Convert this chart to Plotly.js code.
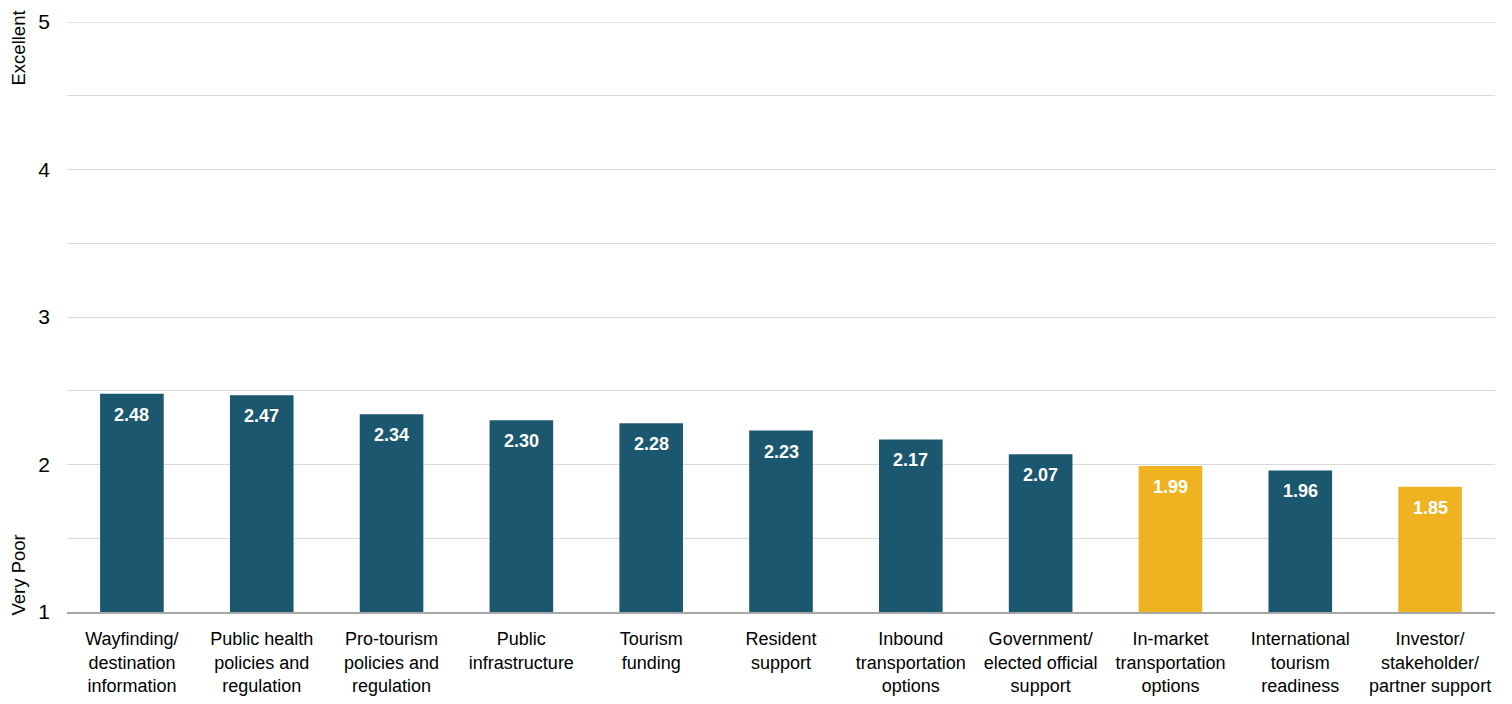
<!DOCTYPE html>
<html><head><meta charset="utf-8">
<script src="https://cdn.plot.ly/plotly-3.0.1.min.js"></script>
<style>html,body{margin:0;padding:0;background:#fff}#chart{width:1512px;height:704px}</style>
</head><body><div id="chart"></div>
<script>
const categories = [
  "Wayfinding/<br>destination<br>information",
  "Public health<br>policies and<br>regulation",
  "Pro-tourism<br>policies and<br>regulation",
  "Public<br>infrastructure",
  "Tourism<br>funding",
  "Resident<br>support",
  "Inbound<br>transportation<br>options",
  "Government/<br>elected official<br>support",
  "In-market<br>transportation<br>options",
  "International<br>tourism<br>readiness",
  "Investor/<br>stakeholder/<br>partner support"
];
const values = [2.48, 2.47, 2.34, 2.30, 2.28, 2.23, 2.17, 2.07, 1.99, 1.96, 1.85];
const highlighted = [false, false, false, false, false, false, false, false, true, false, true];
const yTickVals = [1, 2, 3, 4, 5];
const yTickText = ["1", "2", "3", "4", "5"];
const yMin = 1, yMax = 5;

const teal = "#1c5770", gold = "#efb321";
const colors = highlighted.map(h => h ? gold : teal);

const trace = {
  type: "bar",
  x: categories,
  y: values.map(v => v - yMin),
  base: yMin,
  marker: {color: colors},
  width: 0.49,
  hoverinfo: "skip"
};

const font = "Liberation Sans, Arial";
const annotations = categories.map((c, i) => ({
  x: c, y: values[i], xref: "x", yref: "y",
  text: "<b>" + values[i].toFixed(2) + "</b>",
  showarrow: false, yanchor: "middle", yshift: -21,
  font: {family: font, size: 18, color: "#ffffff"}
}));
annotations.push({
  xref: "paper", yref: "y", x: 0, y: yMax, xshift: -49, yanchor: "top", xanchor: "center", yshift: 13,
  text: "Excellent", textangle: -90, showarrow: false,
  font: {family: font, size: 18.5, color: "#000"}
});
annotations.push({
  xref: "paper", yref: "y", x: 0, y: yMin, xshift: -49, yanchor: "bottom", xanchor: "center", yshift: -6,
  text: "Very Poor", textangle: -90, showarrow: false,
  font: {family: font, size: 18.5, color: "#000"}
});

const layout = {
  width: 1512, height: 704,
  margin: {l: 67, r: 17, t: 22, b: 92},
  paper_bgcolor: "#fff", plot_bgcolor: "#fff",
  showlegend: false,
  bargap: 0.51,
  font: {family: font, color: "#000"},
  xaxis: {
    type: "category",
    tickfont: {family: font, size: 18, color: "#000"},
    showline: true, linecolor: "#a6a6a6", linewidth: 1.5,
    ticks: "", showgrid: false, fixedrange: true,
    ticklabelstandoff: 10
  },
  yaxis: {
    range: [yMin, yMax],
    tickvals: yTickVals, ticktext: yTickText,
    tickfont: {family: font, size: 21, color: "#000"},
    showgrid: true, gridcolor: "#d9d9d9", gridwidth: 1,
    minor: {dtick: 0.5, showgrid: true, gridcolor: "#d9d9d9", gridwidth: 1, tick0: 1},
    zeroline: false, showline: false, ticks: "",
    ticklabelstandoff: 16, fixedrange: true
  },
  shapes: [{
    type: "line", xref: "paper", yref: "y", x0: 0, x1: 1, y0: yMax, y1: yMax,
    line: {color: "#d9d9d9", width: 1.5}, layer: "below"
  }],
  annotations: annotations
};

Plotly.newPlot("chart", [trace], layout, {displayModeBar: false, staticPlot: true});
</script>
</body></html>
